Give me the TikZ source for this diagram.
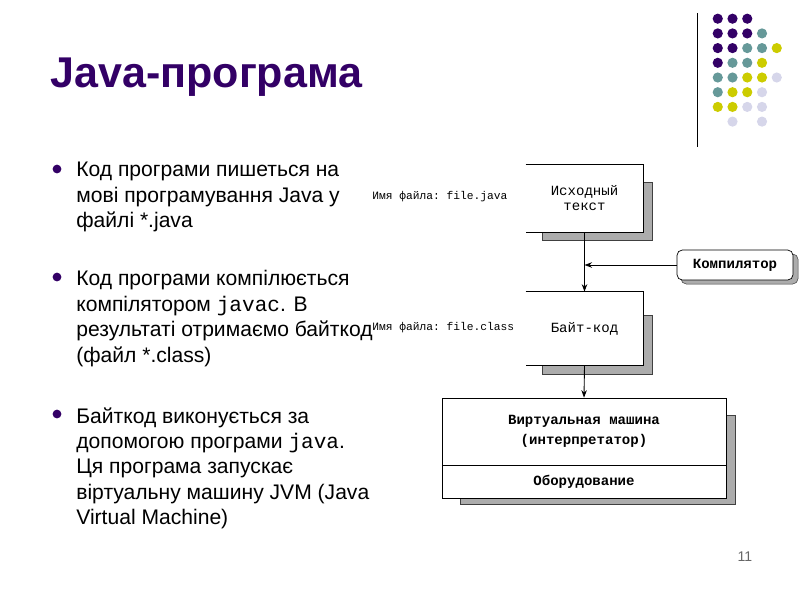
\documentclass[tikz,border=0pt]{standalone}
\usepackage{fontspec}
\setmainfont{Liberation Sans}
\setmonofont{Liberation Mono}
\usetikzlibrary{arrows.meta,positioning}
\definecolor{plum}{HTML}{330066}
\definecolor{dotplum}{HTML}{330066}
\definecolor{dotsea}{HTML}{669999}
\definecolor{dotlime}{HTML}{CCCC00}
\definecolor{dotlilac}{HTML}{D6D6EA}
\tikzset{
  >={Stealth[length=1.5mm,width=1.1mm]},
  title/.style ={font=\fontsize{24.5}{28}\selectfont\bfseries,text=plum,
                 inner sep=0pt,anchor=base west},
  bullet/.style={circle,fill=plum,inner sep=0pt,minimum size=5pt},
  para/.style  ={font=\fontsize{12}{14.5}\selectfont,align=left,
                 inner sep=0pt,anchor=north west},
  blk/.style   ={fill=white,font=\ttfamily\fontsize{8}{8.5}\selectfont,
                 align=center,inner sep=0pt},
  shade/.style ={draw=gray!50!black,fill=gray!65,line width=0.3pt},
  fname/.style ={font=\ttfamily\fontsize{6.4}{8}\selectfont,inner sep=0pt,
                 anchor=west},
  dot/.style   ={circle,inner sep=0pt,minimum size=5.8pt},
  link/.style  ={->,line width=0.5pt},
}
\begin{document}
\begin{tikzpicture}[x=0.02cm,y=-0.02cm]
\useasboundingbox (0,0) rectangle (800,600);
\node[title] (head) at (50,87) {Java-програма};
\node[bullet] (b1) at (57,169) {};
\node[bullet] (b2) at (57,277) {};
\node[bullet] (b3) at (57,414) {};
\node[para] (t1) at (76,162) {Код програми пишеться на\\мові програмування Java у\\файлі *.java};
\node[para] (t2) at (76,270) {Код програми компілюється\\компілятором \texttt{javac}. В\\результаті отримаємо байткод\\(файл *.class)};
\node[para] (t3) at (76,407) {Байткод виконується за\\допомогою програми \texttt{java}.\\Ця програма запускає\\віртуальну машину JVM (Java\\Virtual Machine)};
% diagram
\filldraw[shade] (542,182) rectangle (652,240);
\node[blk,minimum width=2.34cm,minimum height=1.34cm] (src) at (584.5,198.5) {Исходный\\текст};
\draw (src.north west) -- (src.north east) -- (src.south east) -- (src.south west);
\filldraw[shade] (542,315) rectangle (652,374);
\node[blk,minimum width=2.34cm,minimum height=1.46cm] (bc) at (584.5,328.5) {Байт-код};
\draw (bc.north west) -- (bc.north east) -- (bc.south east) -- (bc.south west);
\filldraw[shade,rounded corners=3pt] (681,254) rectangle (798,284);
\node[blk,draw,rounded corners=3pt,font=\ttfamily\bfseries\fontsize{8}{8.5}\selectfont,
  minimum width=2.32cm,minimum height=0.6cm] (comp) at (735,265) {Компилятор};
\filldraw[shade] (460,415) rectangle (735,504);
\node[blk,draw,font=\ttfamily\bfseries\fontsize{8}{11.3}\selectfont,
  minimum width=5.68cm,minimum height=1.34cm] (vm) at (584,431.5) {Виртуальная машина\\(интерпретатор)};
\node[blk,draw,font=\ttfamily\bfseries\fontsize{8}{8.5}\selectfont,
  minimum width=5.68cm,minimum height=0.66cm,below=0pt of vm] (hw) {Оборудование};
\node[fname] (n1) at (372,197) {Имя файла: file.java};
\node[fname] (n2) at (372,328) {Имя файла: file.class};
\draw[link] (src.south) -- (bc.north);
\draw[link] (comp.west) -- (comp.west -| src.south);
\draw[link] (bc.south) -- (vm.north);
% corner decoration
\draw[line width=0.45pt] (697,13) coordinate (r1) -- (697,147) coordinate (r2);
\foreach \c/\r/\col in {1/1/dotplum,2/1/dotplum,3/1/dotplum,
    1/2/dotplum,2/2/dotplum,3/2/dotplum,4/2/dotsea,
    1/3/dotplum,2/3/dotplum,3/3/dotsea,4/3/dotsea,5/3/dotlime,
    1/4/dotplum,2/4/dotsea,3/4/dotsea,4/4/dotlime,
    1/5/dotsea,2/5/dotsea,3/5/dotlime,4/5/dotlime,5/5/dotlilac,
    1/6/dotsea,2/6/dotlime,3/6/dotlime,4/6/dotlilac,
    1/7/dotlime,2/7/dotlime,3/7/dotlilac,4/7/dotlilac,
    2/8/dotlilac,4/8/dotlilac}
  \node[dot,fill=\col] (d\c\r) at ({703+14.75*\c},{4+14.7*\r}) {};
\node[font=\fontsize{8}{9}\selectfont,text=gray!80!black] (pg) at (745,557) {11};
\end{tikzpicture}
\end{document}
